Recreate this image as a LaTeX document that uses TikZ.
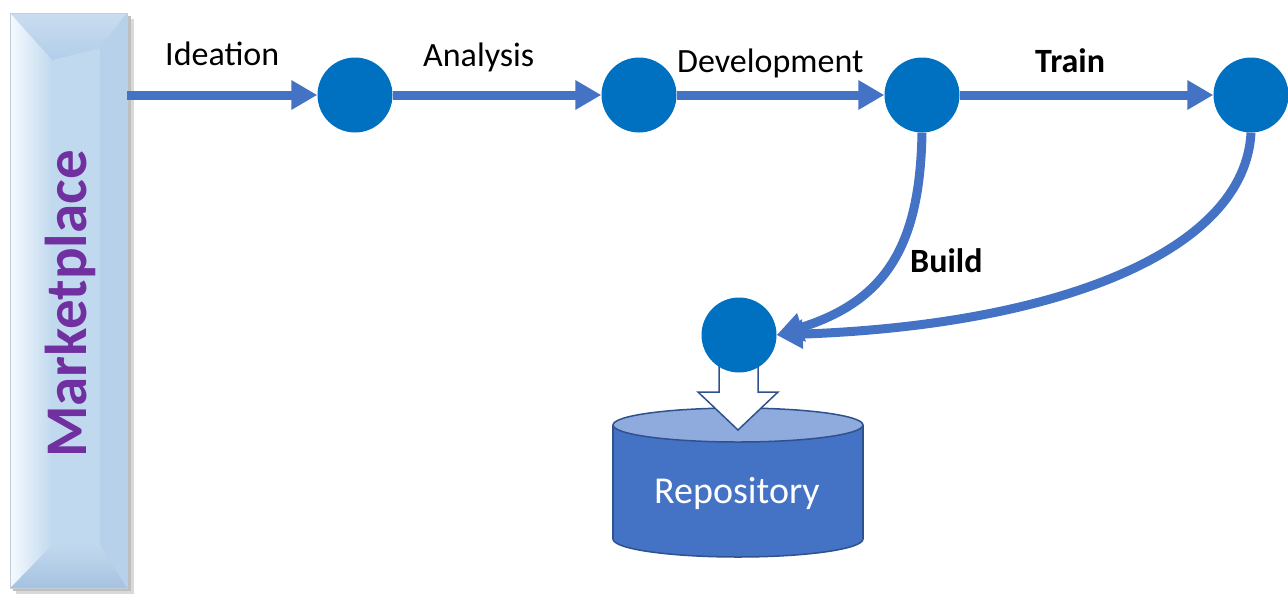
\documentclass[tikz,border=0pt]{standalone}
\usepackage{fontspec}
\setmainfont{Carlito}
\usetikzlibrary{arrows.meta,calc,shapes.geometric}
\definecolor{circblue}{HTML}{0070C0}
\definecolor{arrblue}{HTML}{4472C4}
\definecolor{cyltop}{HTML}{8FAADC}
\definecolor{cylline}{HTML}{2F528F}
\definecolor{mktpurple}{HTML}{7030A0}
\definecolor{barface}{HTML}{C1D9EE}
\definecolor{bartop}{HTML}{B2CEE9}
\definecolor{barbot}{HTML}{A6C2E0}
\definecolor{barright}{HTML}{B7D1EA}
\definecolor{barlight}{HTML}{F6FAFE}
\tikzset{
  dot/.style={circle, fill=circblue, draw=none, minimum size=75pt, inner sep=0pt},
  flow/.style={draw=arrblue, line width=9pt, -{Triangle[length=26pt,width=28pt]}},
  lbl/.style={anchor=base west, inner sep=0pt, font=\fontsize{34}{40}\selectfont, text=black},
  blbl/.style={lbl, font=\fontsize{34}{40}\selectfont\bfseries},
}
\begin{document}
\begin{tikzpicture}[x=1pt,y=-1pt]
\useasboundingbox (0,0) rectangle (1288,600);
% --- Marketplace bevel bar ---
\fill[black!15] (16,19) rectangle (134,594);
\fill[black!25] (13,16) rectangle (131,591);
\fill[barface] (10,13) rectangle (127,588);
\shade[top color=bartop!70, bottom color=bartop] (10,13) -- (127,13) -- (100,48) -- (52,60) -- cycle;
\fill[barright] (127,13) -- (100,48) -- (100,545) -- (127,588) -- cycle;
\shade[top color=barface, bottom color=barbot] (10,588) -- (52,545) -- (100,545) -- (127,588) -- cycle;
\shade[left color=barlight, right color=barface] (10,13) -- (52,60) -- (52,545) -- (10,588) -- cycle;
\draw[barface!80!black!60, line width=0.6pt] (10,13) rectangle (127,588);
\node[rectangle, minimum width=117pt, minimum height=575pt, inner sep=0pt] (mkt) at (68.5,300.5) {};
\node[rotate=90, inner sep=0pt, text=mktpurple, font=\fontsize{59}{64}\selectfont\bfseries] (mkttxt) at (70,304) {Marketplace};
% --- Repository cylinder ---
\filldraw[fill=arrblue, draw=cylline, line width=1.5pt] (738,539) ellipse [x radius=125, y radius=18];
\fill[arrblue] (613,425) rectangle (863,539);
\draw[cylline, line width=1.5pt] (613,425) -- (613,539) (863,425) -- (863,539);
\filldraw[fill=cyltop, draw=cylline, line width=1.5pt] (738,425) ellipse [x radius=125, y radius=17];
\node[anchor=base west, inner sep=0pt, text=white, font=\fontsize{38}{44}\selectfont] (repo) at (654,503) {Repository};
% hollow block arrow
\filldraw[fill=white, draw=cylline, line width=1.5pt] (719,355) -- (758,355) -- (758,392) -- (778,392) -- (738,430) -- (698,392) -- (719,392) -- cycle;
% --- circles ---
\node[dot] (c1) at (355,95) {};
\node[dot] (c2) at (639,95) {};
\node[dot] (c3) at (922,95) {};
\node[dot] (c4) at (1251,95) {};
\node[dot] (c5) at (739,335) {};
% --- arrows ---
\draw[flow] (mkt.east |- c1) -- (c1.west);
\draw[flow] (c1.east) -- (c2.west);
\draw[flow] (c2.east) -- (c3.west);
\draw[flow] (c3.east) -- (c4.west);
\draw[flow] (c4.south) .. controls ($(c4.south)+(-6,118)$) and ($(c5.east)+(283,-10)$) .. (c5.east);
\draw[flow] (c3.south) .. controls ($(c3.south)+(-2,108)$) and ($(c5.east)+(113,-35)$) .. (c5.east);
% --- labels ---
\node[lbl] (lideation) at (165,65) {Ideation};
\node[lbl] (lanalysis) at (423,66) {Analysis};
\node[lbl] (ldev) at (677,72) {Development};
\node[blbl] (ltrain) at (1035,72) {Train};
\node[blbl] (lbuild) at (910,272) {Build};
\end{tikzpicture}
\end{document}
